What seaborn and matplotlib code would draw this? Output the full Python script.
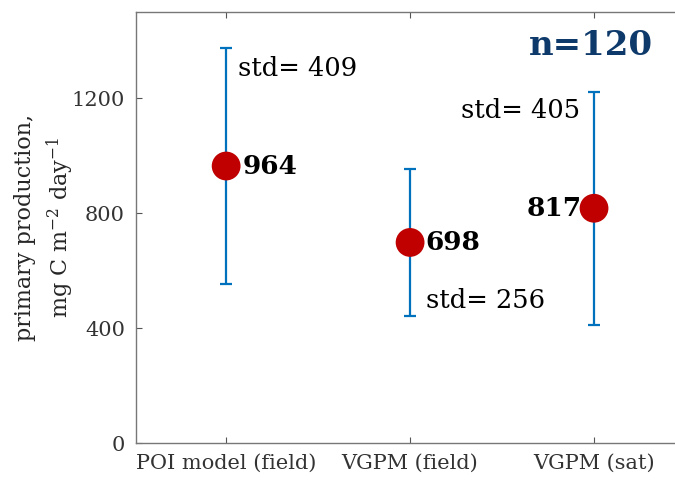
import numpy as np
import pandas as pd
import seaborn as sns
import matplotlib.pyplot as plt

# data
models = ["POI model (field)", "VGPM (field)", "VGPM (sat)"]
means = [964, 698, 817]
stds = [409, 256, 405]
n_obs = 120

df = pd.DataFrame({"model": models, "mean": means, "std": stds})

sns.set_theme(style="white")
plt.rcParams['font.family'] = ['DejaVu Serif']
plt.rcParams['mathtext.fontset'] = 'dejavuserif'

fig = plt.figure(figsize=(6.75, 4.82), dpi=100)
ax = fig.add_axes([0.2015, 0.0809, 0.8148, 0.8942])

# error bars (mean +/- std)
ax.errorbar(np.arange(len(models)), df["mean"], yerr=df["std"], fmt='none',
            ecolor='#0072BD', elinewidth=1.6, capsize=4, capthick=1.6, zorder=2)

sns.scatterplot(data=df, x="model", y="mean", s=430, color='#C00000',
                edgecolor='none', ax=ax, zorder=3, legend=False)

# mean labels
ax.text(0.09, means[0], str(means[0]), ha='left', va='center', fontsize=19, fontweight='bold', color='black')
ax.text(1.085, means[1], str(means[1]), ha='left', va='center', fontsize=19, fontweight='bold', color='black')
ax.text(1.935, means[2], str(means[2]), ha='right', va='center', fontsize=19, fontweight='bold', color='black')

# std labels
ax.text(0.065, 1304, "std= %d" % stds[0], ha='left', va='center', fontsize=18.5, color='black')
ax.text(1.085, 497, "std= %d" % stds[1], ha='left', va='center', fontsize=18.5, color='black')
ax.text(1.925, 1158, "std= %d" % stds[2], ha='right', va='center', fontsize=18.5, color='black')

ax.text(2.32, 1384, "n=%d" % n_obs, ha='right', va='center', fontsize=24.5,
        fontweight='bold', color='#0E3A6B')

ax.set_xlim(-0.49, 2.5)
ax.set_ylim(0, 1500)
ax.set_yticks([0, 400, 800, 1200])
ax.set_xlabel("")
ax.set_ylabel("primary production,\nmg C m$^{-2}$ day$^{-1}$", fontsize=16, color='#262626',
              labelpad=-3, linespacing=1.35)

ax.tick_params(axis='both', direction='in', length=4, width=0.8, colors='#555555',
               labelcolor='#333333', labelsize=15, top=True, right=False, bottom=True, left=True)
ax.tick_params(axis='y', pad=8)
ax.tick_params(axis='x', pad=8)
ax.spines['right'].set_visible(False)
for sp in ax.spines.values():
    sp.set_color('#777777')
    sp.set_linewidth(1.0)

plt.savefig("out.png", dpi=100)
